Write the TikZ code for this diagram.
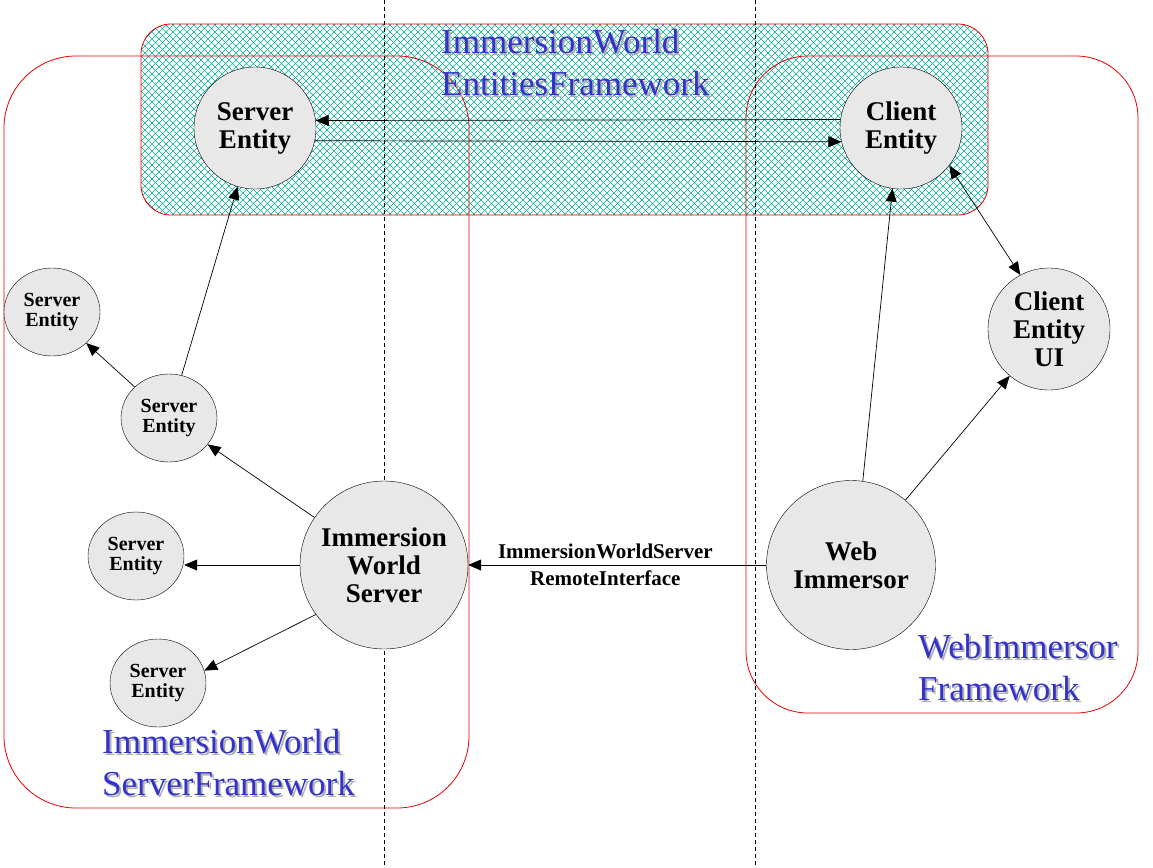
\documentclass[tikz,border=0pt]{standalone}
\usepackage{fontspec}
\setmainfont{Liberation Serif}
\usetikzlibrary{arrows.meta,shapes.geometric}
\definecolor{framered}{RGB}{230,0,0}
\definecolor{hatchteal}{RGB}{0,175,150}
\definecolor{lblblue}{RGB}{51,51,204}
\definecolor{lblshadow}{RGB}{175,175,175}
\definecolor{nodegray}{RGB}{232,232,232}
\newcommand{\framelbl}[1]{\fontsize{35}{42}\selectfont #1}
\begin{document}
\begin{tikzpicture}[x=1pt, y=-1pt,
  bignode/.style={circle, draw, fill=nodegray, inner sep=0pt, align=center, font=\fontsize{27}{28}\selectfont\bfseries},
  smallnode/.style={ellipse, draw, fill=nodegray, inner sep=0pt, align=center, font=\fontsize{20}{20}\selectfont\bfseries},
  arr/.style={-{Triangle[length=13pt,width=11pt]}, line width=0.7pt},
  frame/.style={draw=framered, line width=0.8pt},
  framelabel/.style={anchor=base west, align=left, inner sep=0pt, font=\framelbl{}},
  lbl/.style={font=\fontsize{21}{25}\selectfont\bfseries, inner sep=0pt}]
\useasboundingbox (0,0) rectangle (1153,867);
% hatched framework
\begin{scope}
\clip[rounded corners=30pt] (141,24) rectangle (988,215);
\foreach \k in {-200,-193,...,860}
  \draw[hatchteal, line width=0.6pt] (141+\k,215) -- ++(191,-191);
\foreach \k in {-200,-193,...,860}
  \draw[hatchteal, line width=0.6pt] (141+\k,24) -- ++(191,191);
\end{scope}
\draw[frame, rounded corners=30pt] (141,24) rectangle (988,215);
% server and client frameworks
\draw[frame, rounded corners=72pt] (4,56) rectangle (469,808);
\draw[frame, rounded corners=62pt] (746,56) rectangle (1138,713);
% dashed separators
\draw[dash pattern=on 4pt off 3pt, line width=0.6pt] (384,0) -- (384,867);
\draw[dash pattern=on 4pt off 3pt, line width=0.6pt] (755,0) -- (755,867);
% framework labels
\node[framelabel, text=lblshadow] at (104,797) {ImmersionWorld\\ServerFramework};
\node[framelabel, text=lblblue] (lblsrv) at (102,795) {ImmersionWorld\\ServerFramework};
\node[framelabel, text=lblshadow] at (443,97) {ImmersionWorld\\EntitiesFramework};
\node[framelabel, text=lblblue] (lblent) at (441,95) {ImmersionWorld\\EntitiesFramework};
\node[framelabel, text=lblshadow] at (920,702) {WebImmersor\\Framework};
\node[framelabel, text=lblblue] (lblweb) at (918,700) {WebImmersor\\Framework};
% nodes
\node[bignode, minimum size=122pt] (sent) at (255,128) {Server\\Entity};
\node[bignode, minimum size=122pt] (cent) at (901,128) {Client\\Entity};
\node[bignode, minimum size=122pt] (ceui) at (1049,329) {Client\\Entity\\UI};
\node[bignode, minimum size=169pt] (wi) at (851,565) {Web\\Immersor};
\node[bignode, minimum size=168pt] (iws) at (384,565) {Immersion\\World\\Server};
\node[smallnode, minimum width=96pt, minimum height=88pt] (se1) at (52,312) {Server\\Entity};
\node[smallnode, minimum width=96pt, minimum height=88pt] (se2) at (169,418) {Server\\Entity};
\node[smallnode, minimum width=96pt, minimum height=88pt] (se3) at (136,556) {Server\\Entity};
\node[smallnode, minimum width=96pt, minimum height=88pt] (se4) at (158,683) {Server\\Entity};
% connectors
\draw[arr] (cent.172.5) -- (sent.7.5);
\draw[arr] (sent.-12.3) -- (cent.-167.7);
\draw[arr] (se2) -- (sent);
\draw[arr] (se2) -- (se1);
\draw[arr] (iws) -- (se2);
\draw[arr] (iws.west) -- (iws.west -| se3.east);
\draw[arr] (iws.216) -- (se4.15);
\draw[arr] (wi.west) -- node[lbl, pos=0.54, anchor=south, yshift=6pt]{ImmersionWorldServer} node[lbl, pos=0.54, anchor=north, yshift=-5pt]{RemoteInterface} (iws.east);
\draw[arr] (wi.82) -- (cent.262);
\draw[arr] (wi) -- (ceui);
\draw[{Triangle[length=13pt,width=11pt]}-{Triangle[length=13pt,width=11pt]}, line width=0.7pt] (cent.-38) -- (ceui.118);
\end{tikzpicture}
\end{document}
